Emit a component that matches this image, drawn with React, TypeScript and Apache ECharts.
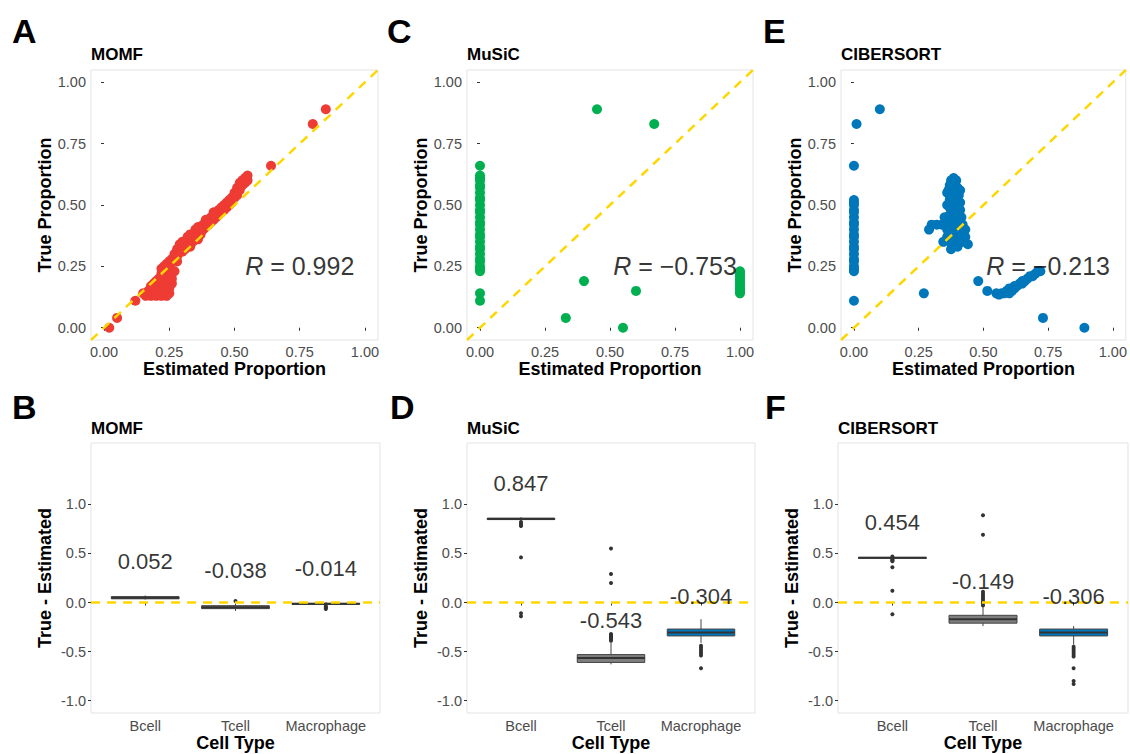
import React, { useEffect, useRef } from "react";
import * as echarts from "echarts";

const FONT = '"Liberation Sans", Arial, Helvetica, sans-serif';

// ---------- data ----------
const methods = ["MOMF", "MuSiC", "CIBERSORT"];
const topLetters = ["A", "C", "E"];
const bottomLetters = ["B", "D", "F"];
const cellTypes = ["Bcell", "Tcell", "Macrophage"];
const propTicks = [0, 0.25, 0.5, 0.75, 1];
const diffTicks = [-1, -0.5, 0, 0.5, 1];
const rValues = ["0.992", "\u22120.753", "\u22120.213"];
const pointColors = ["#EE3B34", "#00B050", "#0077BB"];

const momfPoints: number[][] = [
  [0.02, 0.0], [0.05, 0.04], [0.12, 0.11], [0.64, 0.66], [0.8, 0.83], [0.85, 0.89],
  [0.15, 0.14], [0.16, 0.13], [0.18, 0.13], [0.2, 0.13], [0.22, 0.13], [0.24, 0.13], [0.25, 0.14],
  [0.17, 0.15], [0.19, 0.16], [0.21, 0.15], [0.23, 0.16], [0.25, 0.16], [0.24, 0.18], [0.22, 0.18],
  [0.2, 0.19], [0.19, 0.18], [0.23, 0.19], [0.25, 0.19], [0.21, 0.2], [0.26, 0.18], [0.18, 0.17],
  [0.24, 0.22], [0.26, 0.22], [0.27, 0.23], [0.22, 0.22], [0.26, 0.2],
  [0.22, 0.24], [0.23, 0.25], [0.24, 0.26], [0.25, 0.27], [0.25, 0.25], [0.26, 0.28], [0.27, 0.3],
  [0.27, 0.27], [0.28, 0.29], [0.28, 0.32], [0.29, 0.31], [0.29, 0.34], [0.3, 0.33], [0.3, 0.31],
  [0.31, 0.35], [0.31, 0.32], [0.32, 0.34], [0.32, 0.37], [0.33, 0.36], [0.33, 0.33], [0.34, 0.38],
  [0.34, 0.35], [0.35, 0.37], [0.35, 0.4], [0.36, 0.39], [0.36, 0.36], [0.37, 0.41], [0.37, 0.38],
  [0.38, 0.4], [0.38, 0.42], [0.39, 0.41], [0.39, 0.43], [0.4, 0.42], [0.4, 0.44], [0.41, 0.43],
  [0.41, 0.45], [0.42, 0.44], [0.42, 0.46], [0.43, 0.45], [0.43, 0.47], [0.44, 0.46], [0.44, 0.48],
  [0.45, 0.47], [0.45, 0.49], [0.46, 0.48], [0.46, 0.5], [0.47, 0.49], [0.47, 0.51], [0.48, 0.5],
  [0.48, 0.52], [0.49, 0.51], [0.49, 0.53], [0.5, 0.53], [0.5, 0.55], [0.51, 0.54], [0.51, 0.57],
  [0.52, 0.56], [0.52, 0.59], [0.53, 0.58], [0.53, 0.6], [0.54, 0.59], [0.54, 0.61], [0.55, 0.6],
  [0.55, 0.62], [0.3, 0.35], [0.33, 0.38], [0.36, 0.41], [0.39, 0.44], [0.42, 0.47], [0.28, 0.27],
];

const musicPoints: number[][] = [
  [0, 0.66], [0, 0.62], [0, 0.61], [0, 0.6], [0, 0.58], [0, 0.57], [0, 0.55], [0, 0.53], [0, 0.52],
  [0, 0.5], [0, 0.48], [0, 0.47], [0, 0.45], [0, 0.43], [0, 0.42], [0, 0.4], [0, 0.38], [0, 0.37],
  [0, 0.35], [0, 0.33], [0, 0.32], [0, 0.3], [0, 0.28], [0, 0.27], [0, 0.25], [0, 0.24], [0, 0.23],
  [0, 0.14], [0, 0.11],
  [0.45, 0.89], [0.67, 0.83], [0.33, 0.04], [0.4, 0.19], [0.55, 0.0], [0.6, 0.15],
  [1, 0.23], [1, 0.22], [1, 0.21], [1, 0.2], [1, 0.19], [1, 0.18], [1, 0.17], [1, 0.16], [1, 0.15], [1, 0.14],
];

const cibersortPoints: number[][] = [
  [0, 0.52], [0, 0.51], [0, 0.5], [0, 0.48], [0, 0.47], [0, 0.45], [0, 0.43], [0, 0.42], [0, 0.4],
  [0, 0.38], [0, 0.37], [0, 0.35], [0, 0.33], [0, 0.32], [0, 0.3], [0, 0.28], [0, 0.27], [0, 0.25],
  [0, 0.24], [0, 0.23], [0, 0.66], [0, 0.11], [0.01, 0.83], [0.1, 0.89],
  [0.385, 0.61], [0.375, 0.6], [0.395, 0.6], [0.37, 0.58], [0.39, 0.58], [0.4, 0.57], [0.365, 0.56],
  [0.38, 0.56], [0.395, 0.55], [0.405, 0.54], [0.37, 0.54], [0.36, 0.55], [0.385, 0.53], [0.4, 0.52],
  [0.37, 0.52], [0.41, 0.51], [0.38, 0.5], [0.395, 0.49], [0.37, 0.49], [0.41, 0.48], [0.38, 0.47],
  [0.4, 0.46], [0.37, 0.46], [0.415, 0.45], [0.385, 0.44], [0.365, 0.44], [0.4, 0.43], [0.42, 0.42],
  [0.375, 0.42], [0.39, 0.41], [0.36, 0.4], [0.41, 0.4], [0.43, 0.4], [0.38, 0.39], [0.4, 0.38],
  [0.42, 0.38], [0.36, 0.37], [0.39, 0.37], [0.43, 0.37], [0.37, 0.35], [0.4, 0.35], [0.42, 0.35],
  [0.44, 0.34], [0.345, 0.35], [0.38, 0.33], [0.4, 0.33], [0.375, 0.32], [0.36, 0.5], [0.41, 0.56],
  [0.3, 0.42], [0.29, 0.4], [0.32, 0.42], [0.34, 0.42], [0.35, 0.45],
  [0.27, 0.14], [0.48, 0.19], [0.515, 0.15], [0.55, 0.14], [0.56, 0.135], [0.57, 0.14], [0.58, 0.14],
  [0.59, 0.15], [0.6, 0.14], [0.6, 0.16], [0.61, 0.15], [0.62, 0.16], [0.62, 0.17], [0.63, 0.17],
  [0.64, 0.18], [0.65, 0.18], [0.65, 0.19], [0.66, 0.19], [0.67, 0.2], [0.68, 0.21], [0.69, 0.21],
  [0.7, 0.22], [0.71, 0.23], [0.72, 0.23], [0.73, 0.04], [0.89, 0.0],
];

// box stats per cell type: [low whisker, q1, median, q3, high whisker]
const momfBox: number[][] = [
  [0.03, 0.038, 0.05, 0.06, 0.072],
  [-0.085, -0.062, -0.047, -0.032, 0.0],
  [-0.025, -0.017, -0.013, -0.009, 0.0],
];
const musicBox: number[][] = [
  [0.83, 0.845, 0.852, 0.86, 0.87],
  [-0.63, -0.61, -0.565, -0.53, -0.41],
  [-0.41, -0.34, -0.305, -0.27, -0.17],
];
const cibersortBox: number[][] = [
  [0.445, 0.45, 0.456, 0.46, 0.47],
  [-0.24, -0.21, -0.17, -0.13, -0.05],
  [-0.43, -0.34, -0.305, -0.27, -0.24],
];

const momfOutliers: number[][] = [[], [0.015], [-0.035, -0.045, -0.055, -0.065]];
const musicOutliers: number[][] = [
  [0.82, 0.8, 0.79, 0.78, 0.46, -0.11, -0.14],
  [-0.32, -0.33, -0.34, -0.35, -0.36, -0.37, -0.38, -0.39, 0.2, 0.29, 0.55],
  [-0.44, -0.46, -0.48, -0.5, -0.52, -0.54, -0.67],
];
const cibersortOutliers: number[][] = [
  [0.47, 0.44, 0.43, 0.42, 0.36, 0.12, -0.12],
  [-0.03, -0.01, 0.01, 0.03, 0.05, 0.07, 0.09, 0.11, 0.69, 0.89],
  [-0.45, -0.47, -0.49, -0.51, -0.53, -0.55, -0.67, -0.8, -0.83],
];

const momfMeans = [0.052, -0.038, -0.014];
const musicMeans = [0.847, -0.543, -0.304];
const cibersortMeans = [0.454, -0.149, -0.306];

const boxFills = ["#4D4D4D", "#7F7F7F", "#0077BB"];

// ---------- layout ----------
const topGrids = [
  { left: 91, top: 70, width: 287, height: 270 },
  { left: 467, top: 70, width: 286, height: 270 },
  { left: 841, top: 70, width: 286, height: 270 },
];
const bottomGrids = [
  { left: 91, top: 443, width: 289, height: 270 },
  { left: 467, top: 443, width: 288, height: 270 },
  { left: 838, top: 443, width: 290, height: 270 },
];
const letterPos = [
  [12, 14], [387, 14], [763, 14],
];
const letterPosB = [
  [12, 390], [390, 390], [765, 390],
];

function buildOption() {
  const scatterSets = [momfPoints, musicPoints, cibersortPoints];
  const boxSets = [momfBox, musicBox, cibersortBox];
  const outSets = [momfOutliers, musicOutliers, cibersortOutliers];
  const meanSets = [momfMeans, musicMeans, cibersortMeans];

  const grid: any[] = [...topGrids, ...bottomGrids].map((g) => ({
    ...g,
    show: true,
    borderColor: "#E3E3E3",
    borderWidth: 1,
    backgroundColor: "#FFFFFF",
  }));

  const tickLabelStyle = { color: "#4D4D4D", fontSize: 14.5, fontFamily: FONT };
  const nameStyle = { color: "#000", fontSize: 18, fontWeight: "bold", fontFamily: FONT };

  const xAxis: any[] = [];
  const yAxis: any[] = [];
  for (let i = 0; i < 3; i++) {
    xAxis.push({
      type: "value",
      gridIndex: i,
      min: -0.05,
      max: 1.05,
      axisLine: { show: false },
      splitLine: { show: false },
      axisTick: { show: true, customValues: propTicks, length: 3, lineStyle: { color: "#333" } },
      axisLabel: { ...tickLabelStyle, customValues: propTicks, margin: 4, formatter: (v: number) => v.toFixed(2) },
      name: "Estimated Proportion",
      nameLocation: "middle",
      nameGap: 20,
      nameTextStyle: nameStyle,
    });
    yAxis.push({
      type: "value",
      gridIndex: i,
      min: -0.05,
      max: 1.05,
      axisLine: { show: false },
      splitLine: { show: false },
      axisTick: { show: true, customValues: propTicks, length: 3, lineStyle: { color: "#333" } },
      axisLabel: { ...tickLabelStyle, customValues: propTicks, margin: 5, formatter: (v: number) => v.toFixed(2) },
      name: "True Proportion",
      nameLocation: "middle",
      nameGap: 37,
      nameTextStyle: nameStyle,
    });
  }
  for (let j = 0; j < 3; j++) {
    xAxis.push({
      type: "value",
      gridIndex: 3 + j,
      min: 0.4,
      max: 3.6,
      axisLine: { show: false },
      splitLine: { show: false },
      axisTick: { show: true, customValues: [1, 2, 3], length: 3, lineStyle: { color: "#333" } },
      axisLabel: {
        ...tickLabelStyle,
        customValues: [1, 2, 3],
        margin: 5,
        formatter: (v: number) => cellTypes[Math.round(v) - 1] || "",
      },
      name: "Cell Type",
      nameLocation: "middle",
      nameGap: 20,
      nameTextStyle: nameStyle,
    });
    yAxis.push({
      type: "value",
      gridIndex: 3 + j,
      min: -1.125,
      max: 1.625,
      axisLine: { show: false },
      splitLine: { show: false },
      axisTick: { show: true, customValues: diffTicks, length: 3, lineStyle: { color: "#333" } },
      axisLabel: { ...tickLabelStyle, customValues: diffTicks, margin: 5, formatter: (v: number) => v.toFixed(1) },
      name: "True - Estimated",
      nameLocation: "middle",
      nameGap: 37,
      nameTextStyle: nameStyle,
    });
  }

  const series: any[] = [];
  for (let i = 0; i < 3; i++) {
    series.push({
      type: "scatter",
      xAxisIndex: i,
      yAxisIndex: i,
      data: scatterSets[i],
      symbolSize: 10,
      itemStyle: { color: pointColors[i], opacity: 1 },
      z: 2,
      silent: true,
    });
    series.push({
      type: "line",
      xAxisIndex: i,
      yAxisIndex: i,
      data: [[-0.05, -0.05], [1.05, 1.05]],
      symbol: "none",
      clip: true,
      lineStyle: { color: "#FFD700", width: 2.5, type: [9, 7] },
      z: 3,
      silent: true,
    });
    series.push({
      type: "scatter",
      xAxisIndex: i,
      yAxisIndex: i,
      data: [[0.75, 0.25, rValues[i]]],
      symbolSize: 1,
      itemStyle: { color: "rgba(0,0,0,0)" },
      z: 5,
      silent: true,
      label: {
        show: true,
        position: "inside",
        color: "#000",
        fontSize: 25,
        fontFamily: FONT,
        formatter: (p: any) => "{i|R} = " + p.value[2],
        rich: { i: { fontStyle: "italic", fontSize: 25, fontFamily: FONT, color: "#000" } },
      },
    });
  }

  for (let j = 0; j < 3; j++) {
    const gi = 3 + j;
    const boxData = boxSets[j].map((b, k) => [k + 1, ...b]);
    series.push({
      type: "custom",
      xAxisIndex: gi,
      yAxisIndex: gi,
      data: boxData,
      encode: { x: 0, y: [1, 2, 3, 4, 5] },
      z: 2,
      silent: true,
      renderItem: (params: any, api: any) => {
        const x = api.value(0);
        const pLow = api.coord([x, api.value(1)]);
        const pQ1 = api.coord([x, api.value(2)]);
        const pMed = api.coord([x, api.value(3)]);
        const pQ3 = api.coord([x, api.value(4)]);
        const pHigh = api.coord([x, api.value(5)]);
        const w = api.size([0.75, 0])[0];
        const h = Math.max(pQ1[1] - pQ3[1], 1);
        return {
          type: "group",
          children: [
            {
              type: "line",
              shape: { x1: pLow[0], y1: pLow[1], x2: pHigh[0], y2: pHigh[1] },
              style: { stroke: "#444", lineWidth: 1 },
            },
            {
              type: "rect",
              shape: { x: pQ3[0] - w / 2, y: pQ3[1], width: w, height: h },
              style: { fill: boxFills[params.dataIndex], stroke: "#444", lineWidth: 1 },
            },
            {
              type: "line",
              shape: { x1: pMed[0] - w / 2, y1: pMed[1], x2: pMed[0] + w / 2, y2: pMed[1] },
              style: { stroke: "#333", lineWidth: 2 },
            },
          ],
        };
      },
    });
    const outData: number[][] = [];
    outSets[j].forEach((arr, k) => arr.forEach((v) => outData.push([k + 1, v])));
    series.push({
      type: "scatter",
      xAxisIndex: gi,
      yAxisIndex: gi,
      data: outData,
      symbolSize: 4,
      itemStyle: { color: "#333", opacity: 1 },
      z: 2,
      silent: true,
    });
    series.push({
      type: "line",
      xAxisIndex: gi,
      yAxisIndex: gi,
      data: [[0.4, 0], [3.6, 0]],
      symbol: "none",
      lineStyle: { color: "#FFD700", width: 2.5, type: [9, 7] },
      z: 3,
      silent: true,
    });
    series.push({
      type: "scatter",
      xAxisIndex: gi,
      yAxisIndex: gi,
      data: meanSets[j].map((m, k) => [k + 1, m + 0.365, m.toFixed(3)]),
      symbolSize: 1,
      itemStyle: { color: "rgba(0,0,0,0)" },
      z: 5,
      silent: true,
      label: {
        show: true,
        position: "inside",
        color: "#000",
        fontSize: 22,
        fontFamily: FONT,
        formatter: (p: any) => p.value[2],
      },
    });
  }

  const title: any[] = [];
  for (let i = 0; i < 3; i++) {
    title.push({
      text: topLetters[i],
      left: letterPos[i][0],
      top: letterPos[i][1],
      padding: 0,
      textStyle: { fontSize: 34, fontWeight: "bold", color: "#000", fontFamily: FONT },
    });
    title.push({
      text: methods[i],
      left: topGrids[i].left,
      top: 46,
      padding: 0,
      textStyle: { fontSize: 17, fontWeight: "bold", color: "#000", fontFamily: FONT },
    });
    title.push({
      text: bottomLetters[i],
      left: letterPosB[i][0],
      top: letterPosB[i][1],
      padding: 0,
      textStyle: { fontSize: 34, fontWeight: "bold", color: "#000", fontFamily: FONT },
    });
    title.push({
      text: methods[i],
      left: bottomGrids[i].left,
      top: 420,
      padding: 0,
      textStyle: { fontSize: 17, fontWeight: "bold", color: "#000", fontFamily: FONT },
    });
  }

  return {
    animation: false,
    backgroundColor: "#FFFFFF",
    textStyle: { fontFamily: FONT },
    title,
    grid,
    xAxis,
    yAxis,
    series,
  };
}

export default function App() {
  const ref = useRef<HTMLDivElement>(null);
  useEffect(() => {
    if (!ref.current) return;
    const chart = echarts.init(ref.current, undefined, { renderer: "svg" });
    chart.setOption(buildOption() as any);
    return () => chart.dispose();
  }, []);
  return (
    <div
      ref={ref}
      style={{ position: "absolute", left: 0, top: 0, width: 1130, height: 754, background: "#fff" }}
    />
  );
}
